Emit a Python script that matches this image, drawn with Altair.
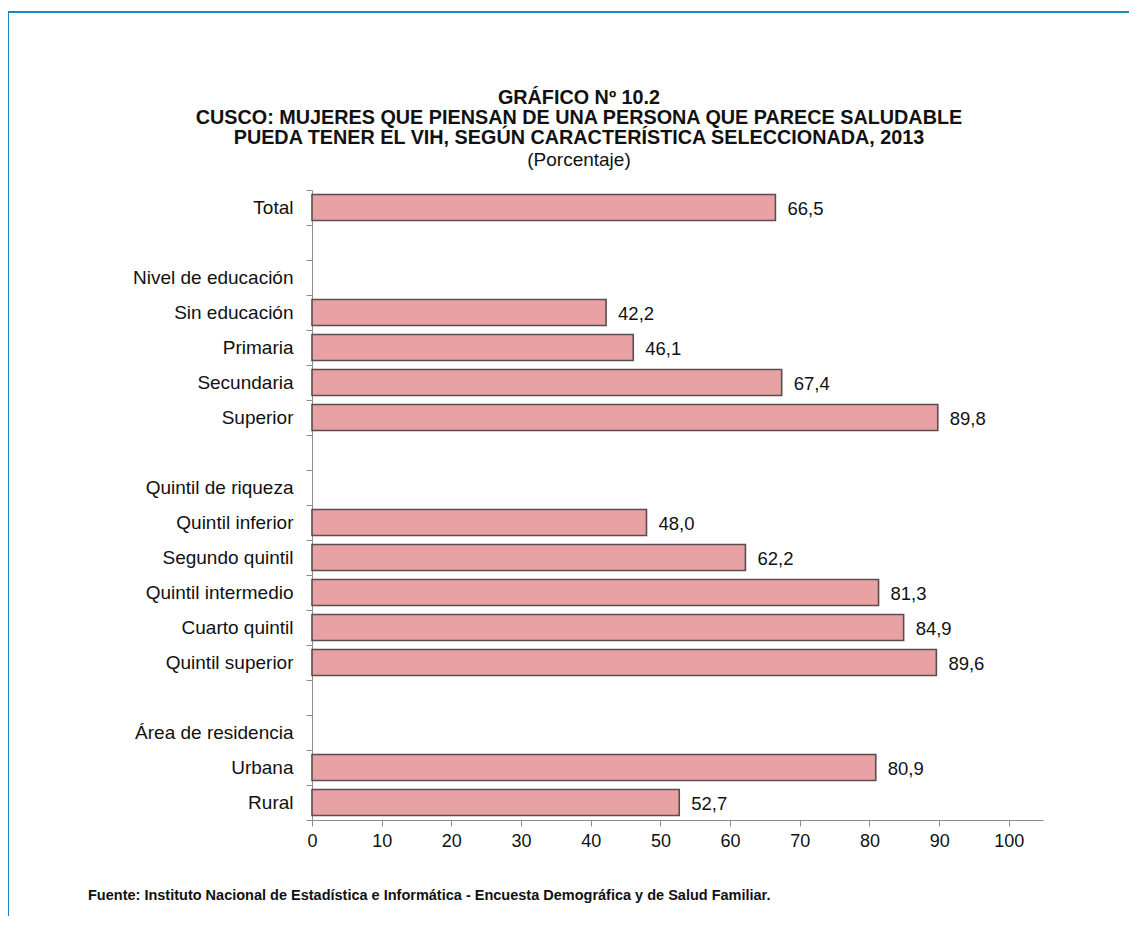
import altair as alt
import pandas as pd

categories = [
    "Total", " ", "Nivel de educación", "Sin educación", "Primaria",
    "Secundaria", "Superior", "  ", "Quintil de riqueza", "Quintil inferior",
    "Segundo quintil", "Quintil intermedio", "Cuarto quintil", "Quintil superior",
    "   ", "Área de residencia", "Urbana", "Rural",
]
values = [
    66.5, None, None, 42.2, 46.1, 67.4, 89.8, None, None, 48.0,
    62.2, 81.3, 84.9, 89.6, None, None, 80.9, 52.7,
]
x_ticks = [0, 10, 20, 30, 40, 50, 60, 70, 80, 90, 100]

title_lines = [
    "GRÁFICO Nº 10.2",
    "CUSCO: MUJERES QUE PIENSAN DE UNA PERSONA QUE PARECE SALUDABLE",
    "PUEDA TENER EL VIH, SEGÚN CARACTERÍSTICA SELECCIONADA, 2013",
]
subtitle = "(Porcentaje)"
source = "Fuente: Instituto Nacional de Estadística e Informática - Encuesta Demográfica y de Salud Familiar."

FONT = "Liberation Sans, Arial, Helvetica, sans-serif"

rows = []
for c, v in zip(categories, values):
    rows.append({
        "cat": c,
        "val": v,
        "lab": ("%.1f" % v).replace(".", ",") if v is not None else "",
    })
df = pd.DataFrame(rows)
bars_df = df[df["val"].notna()]

W, H = 731, 630

y_enc = alt.Y(
    "cat:N",
    sort=categories,
    scale=alt.Scale(domain=categories, paddingInner=0, paddingOuter=0),
    axis=alt.Axis(
        title=None, tickBand="extent", tickSize=6, labelPadding=13,
        labelFontSize=19, labelColor="#111111", domainColor="#8c8c8c",
        tickColor="#8c8c8c", labelFont=FONT, grid=False,
    ),
)
x_enc = alt.X(
    "val:Q",
    scale=alt.Scale(domain=[0, 104.9], nice=False),
    axis=alt.Axis(
        title=None, values=x_ticks, tickSize=6, labelPadding=6,
        labelFontSize=18, labelColor="#111111", domainColor="#8c8c8c",
        tickColor="#8c8c8c", labelFont=FONT, grid=False, labelFlush=False,
    ),
)

bars = alt.Chart(bars_df).mark_bar(
    height={"band": 0.74}, fill="#E8A2A4", stroke="#5b4d4f", strokeWidth=1.6,
).encode(y=y_enc, x=x_enc)

labels = alt.Chart(bars_df).mark_text(
    align="left", baseline="middle", dx=12, dy=1, fontSize=18.5,
    font=FONT, color="#111111",
).encode(y=alt.Y("cat:N", sort=categories), x="val:Q", text="lab:N")

one = alt.Data(values=[{}])

def txt(s, x, y, size, weight="normal", align="center"):
    return alt.Chart(one).mark_text(
        align=align, baseline="middle", fontSize=size, fontWeight=weight,
        font=FONT, color="#111111",
    ).encode(x=alt.value(x), y=alt.value(y), text=alt.value(s))

title_layers = [
    txt(title_lines[0], 267, -92, 19.8, "bold"),
    txt(title_lines[1], 267, -72, 19.8, "bold"),
    txt(title_lines[2], 267, -52, 19.8, "bold"),
    txt(subtitle, 267, -30, 19),
    txt(source, -224, 706, 14.5, "bold", "left"),
]

frame_top = alt.Chart(one).mark_rule(color="#1789c5", strokeWidth=2).encode(
    x=alt.value(-305), x2=alt.value(840), y=alt.value(-178)
)
frame_left = alt.Chart(one).mark_rule(color="#1789c5", strokeWidth=2).encode(
    x=alt.value(-304), y=alt.value(-179), y2=alt.value(760)
)

chart = alt.layer(
    frame_top, frame_left, bars, labels, *title_layers
).properties(
    width=W, height=H,
    padding={"left": 304, "top": 182, "right": 86, "bottom": 96},
    autosize=alt.AutoSizeParams(type="none"),
).configure(font=FONT).configure_view(stroke=None)

chart.save("out.html", embed_options={"renderer": "svg", "actions": False})
